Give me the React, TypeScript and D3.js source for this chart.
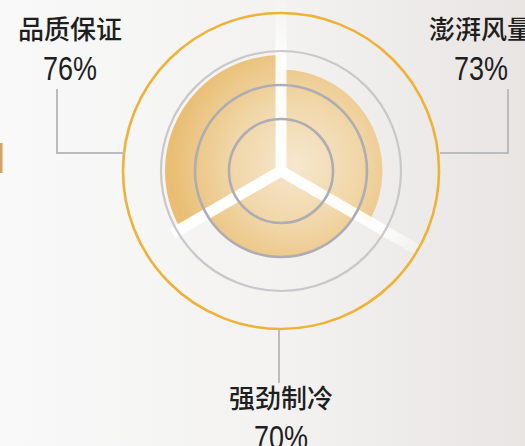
import React, { useRef, useEffect } from 'react'
import { select, arc, pie, scaleLinear } from 'd3'

const categories = ['品质保证', '澎湃风量', '强劲制冷']
const values = [76, 73, 70]
const ringRadii = [52, 86, 120]

const W = 525
const H = 446
const cx = 281
const cy = 171
const outerR = 158

// label placement: [text x, name baseline, leader path]
const labelLayout = [
    { x: 70, y: 39, leader: [[57, 89], [57, 153], [124, 153]] },
    { x: 481, y: 39, leader: [[508, 89], [508, 153], [440, 153]] },
    { x: 281, y: 408, leader: [[279, 330], [279, 383]] },
]

const App = () => {
    const ref = useRef<any>()

    useEffect(() => {
        const svg = select(ref.current)
        svg.selectAll('*').remove()

        const defs = svg.append('defs')
        const bg = defs.append('linearGradient').attr('id', 'bg')
            .attr('x1', 0).attr('x2', 1).attr('y1', 0).attr('y2', 0)
        bg.append('stop').attr('offset', '0%').attr('stop-color', '#f9f9f9')
        bg.append('stop').attr('offset', '55%').attr('stop-color', '#f3f2f1')
        bg.append('stop').attr('offset', '100%').attr('stop-color', '#e8e5e3')

        // coordinates are local to the centred group
        const fill = defs.append('radialGradient').attr('id', 'fill')
            .attr('gradientUnits', 'userSpaceOnUse')
            .attr('cx', 15).attr('cy', -8).attr('r', 125)
        fill.append('stop').attr('offset', '0%').attr('stop-color', '#f6e7cf')
        fill.append('stop').attr('offset', '50%').attr('stop-color', '#f1d7a9')
        fill.append('stop').attr('offset', '100%').attr('stop-color', '#e9be74')

        const streak = defs.append('linearGradient').attr('id', 'streak')
            .attr('gradientUnits', 'userSpaceOnUse')
            .attr('x1', 0).attr('y1', 0).attr('x2', 0).attr('y2', -175)
        streak.append('stop').attr('offset', '0%').attr('stop-color', '#ffffff').attr('stop-opacity', 1)
        streak.append('stop').attr('offset', '65%').attr('stop-color', '#ffffff').attr('stop-opacity', 0.9)
        streak.append('stop').attr('offset', '100%').attr('stop-color', '#ffffff').attr('stop-opacity', 0)

        svg.append('rect').attr('width', W).attr('height', H).attr('fill', 'url(#bg)')
        svg.append('rect').attr('x', 0).attr('y', 143).attr('width', 2.5).attr('height', 30).attr('fill', '#d8a264')

        const r = scaleLinear().domain([52, 76]).range([0, 116])
        const slices = pie<number>().sort(null).value(() => 1)
            .startAngle(-2 * Math.PI / 3).endAngle(4 * Math.PI / 3)(values)
        const g = svg.append('g').attr('transform', `translate(${cx},${cy})`)

        g.selectAll('.sector')
            .data(slices)
            .join('path')
            .attr('class', 'sector')
            .attr('fill', 'url(#fill)')
            .attr('d', d => arc<any>().innerRadius(0).outerRadius(r(d.data))(d) as string)

        // white gaps between the sectors
        const gapAngles = [-2 * Math.PI / 3, 0, 2 * Math.PI / 3]
        const gapLen = [125, 175, 160]
        gapAngles.forEach((a, i) => {
            g.append('rect')
                .attr('x', -5.5).attr('y', -gapLen[i]).attr('width', 11).attr('height', gapLen[i])
                .attr('fill', i === 0 ? '#ffffff' : 'url(#streak)')
                .attr('transform', `rotate(${a * 180 / Math.PI})`)
        })

        g.selectAll('.ring')
            .data(ringRadii)
            .join('circle')
            .attr('class', 'ring')
            .attr('r', d => d)
            .attr('fill', 'none')
            .attr('stroke', (d, i) => (i === 2 ? '#c9c7c9' : '#adadb3'))
            .attr('stroke-width', (d, i) => (i === 2 ? 2.2 : 2.6))

        g.append('circle')
            .attr('r', outerR)
            .attr('fill', 'none')
            .attr('stroke', '#efb238')
            .attr('stroke-width', 2.6)

        labelLayout.forEach((l, i) => {
            svg.append('polyline')
                .attr('points', l.leader.map(p => p.join(',')).join(' '))
                .attr('fill', 'none')
                .attr('stroke', '#bdbcbc')
                .attr('stroke-width', 2)
            svg.append('text')
                .attr('x', l.x).attr('y', l.y)
                .attr('text-anchor', 'middle')
                .attr('font-family', '"Noto Sans CJK SC", sans-serif')
                .attr('font-weight', 500)
                .attr('font-size', 26)
                .attr('fill', '#1e1e1e')
                .text(categories[i])
            svg.append('text')
                .attr('x', l.x).attr('y', l.y + 41)
                .attr('text-anchor', 'middle')
                .attr('font-family', '"Liberation Sans", Arial, sans-serif')
                .attr('font-size', 34)
                .attr('textLength', 54)
                .attr('lengthAdjust', 'spacingAndGlyphs')
                .attr('fill', '#1e1e1e')
                .text(`${values[i]}%`)
        })
    }, [])

    return (
        <svg ref={ref} width={W} height={H} style={{ position: 'absolute', left: 0, top: 0, display: 'block' }} />
    )
}

export default App
